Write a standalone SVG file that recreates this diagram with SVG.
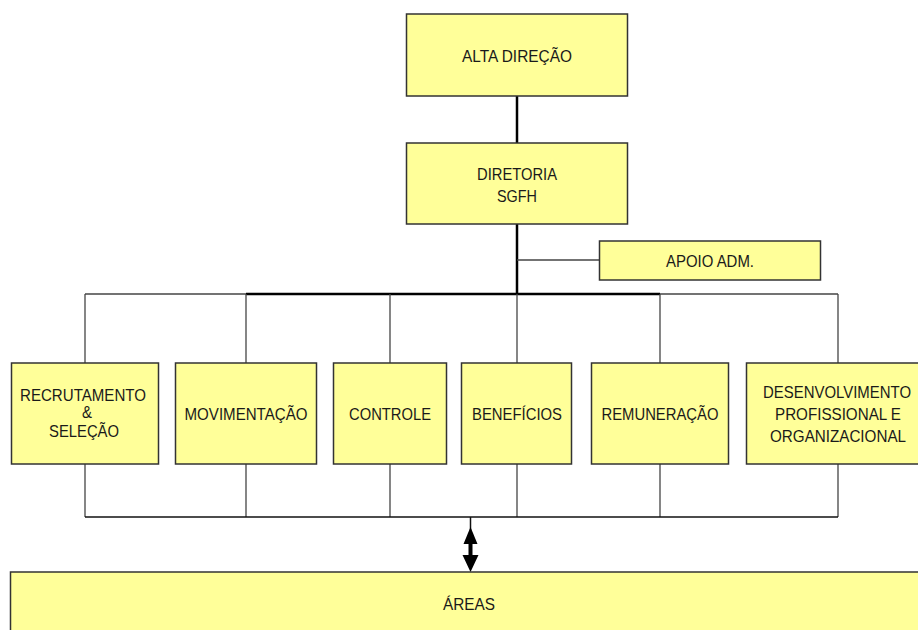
<svg xmlns="http://www.w3.org/2000/svg" width="918" height="630" viewBox="0 0 918 630">
  <style>
    .box { fill: #ffff99; stroke: #333333; stroke-width: 1.5; }
    .lbl { font-family: "Liberation Sans", Arial, sans-serif; font-size: 17px; fill: #1a1a1a; text-anchor: middle; }
    .trunk { stroke: #000000; stroke-width: 2.5; fill: none; }
    .thin { stroke: #444444; stroke-width: 1.3; fill: none; }
    .bus { stroke: #111111; stroke-width: 1.5; fill: none; }
  </style>

  <!-- connectors -->
  <g id="connectors">
    <!-- main vertical trunk -->
    <line class="trunk" x1="517" y1="96" x2="517" y2="143"/>
    <line class="trunk" x1="517" y1="224" x2="517" y2="294"/>
    <!-- branch to support office -->
    <line class="thin" x1="517" y1="260" x2="599" y2="260"/>
    <!-- top distribution bus -->
    <line class="thin" x1="85" y1="294" x2="247" y2="294"/>
    <line class="trunk" x1="246" y1="294" x2="660" y2="294"/>
    <line class="thin" x1="660" y1="294" x2="838" y2="294"/>
    <!-- drops to departments -->
    <line class="thin" x1="85" y1="294" x2="85" y2="363"/>
    <line class="thin" x1="246" y1="294" x2="246" y2="363"/>
    <line class="thin" x1="390" y1="294" x2="390" y2="363"/>
    <line class="thin" x1="517" y1="294" x2="517" y2="363"/>
    <line class="thin" x1="660" y1="294" x2="660" y2="363"/>
    <line class="thin" x1="838" y1="294" x2="838" y2="363"/>
    <!-- rises from departments -->
    <line class="thin" x1="85" y1="464" x2="85" y2="517"/>
    <line class="thin" x1="246" y1="464" x2="246" y2="517"/>
    <line class="thin" x1="390" y1="464" x2="390" y2="517"/>
    <line class="thin" x1="517" y1="464" x2="517" y2="517"/>
    <line class="thin" x1="660" y1="464" x2="660" y2="517"/>
    <line class="thin" x1="838" y1="464" x2="838" y2="517"/>
    <!-- bottom collecting bus -->
    <line class="bus" x1="85" y1="517" x2="838" y2="517"/>
    <!-- two-way arrow to areas -->
    <line class="bus" x1="470.5" y1="517" x2="470.5" y2="530"/>
    <polygon points="470.5,527 463.5,544 477.5,544" fill="#000"/>
    <rect x="468.5" y="543" width="4" height="13" fill="#000"/>
    <polygon points="462.5,555 478.5,555 470.5,572" fill="#000"/>
  </g>

  <g id="alta-direcao">
    <rect class="box" x="406.5" y="14" width="221" height="82"/>
    <text class="lbl" x="517" y="62" textLength="110" lengthAdjust="spacingAndGlyphs">ALTA DIREÇÃO</text>
  </g>

  <g id="diretoria">
    <rect class="box" x="406.5" y="143" width="221" height="81"/>
    <text class="lbl" x="517" y="180" textLength="80" lengthAdjust="spacingAndGlyphs">DIRETORIA</text>
    <text class="lbl" x="517" y="202" textLength="40" lengthAdjust="spacingAndGlyphs">SGFH</text>
  </g>

  <g id="apoio-adm">
    <rect class="box" x="599.5" y="241" width="221" height="39"/>
    <text class="lbl" x="710" y="267" textLength="88" lengthAdjust="spacingAndGlyphs">APOIO ADM.</text>
  </g>

  <g id="recrutamento">
    <rect class="box" x="11.5" y="363" width="147" height="101"/>
    <text class="lbl" x="83" y="401" textLength="126" lengthAdjust="spacingAndGlyphs">RECRUTAMENTO</text>
    <text class="lbl" x="87" y="418" textLength="10" lengthAdjust="spacingAndGlyphs">&amp;</text>
    <text class="lbl" x="84" y="437" textLength="70" lengthAdjust="spacingAndGlyphs">SELEÇÃO</text>
  </g>

  <g id="movimentacao">
    <rect class="box" x="175.5" y="363" width="141" height="101"/>
    <text class="lbl" x="246" y="420" textLength="123" lengthAdjust="spacingAndGlyphs">MOVIMENTAÇÃO</text>
  </g>

  <g id="controle">
    <rect class="box" x="333.5" y="363" width="113" height="101"/>
    <text class="lbl" x="390" y="420" textLength="82" lengthAdjust="spacingAndGlyphs">CONTROLE</text>
  </g>

  <g id="beneficios">
    <rect class="box" x="461.5" y="363" width="110" height="101"/>
    <text class="lbl" x="517" y="420" textLength="90" lengthAdjust="spacingAndGlyphs">BENEFÍCIOS</text>
  </g>

  <g id="remuneracao">
    <rect class="box" x="591.5" y="363" width="137" height="101"/>
    <text class="lbl" x="660" y="420" textLength="117" lengthAdjust="spacingAndGlyphs">REMUNERAÇÃO</text>
  </g>

  <g id="desenvolvimento">
    <rect class="box" x="746.5" y="363" width="180" height="101"/>
    <text class="lbl" x="837" y="398" textLength="148" lengthAdjust="spacingAndGlyphs">DESENVOLVIMENTO</text>
    <text class="lbl" x="838" y="420" textLength="126" lengthAdjust="spacingAndGlyphs">PROFISSIONAL E</text>
    <text class="lbl" x="838" y="442" textLength="136" lengthAdjust="spacingAndGlyphs">ORGANIZACIONAL</text>
  </g>

  <g id="areas">
    <rect class="box" x="10.5" y="572" width="920" height="70"/>
    <text class="lbl" x="469" y="610" textLength="52" lengthAdjust="spacingAndGlyphs">ÁREAS</text>
  </g>
</svg>
